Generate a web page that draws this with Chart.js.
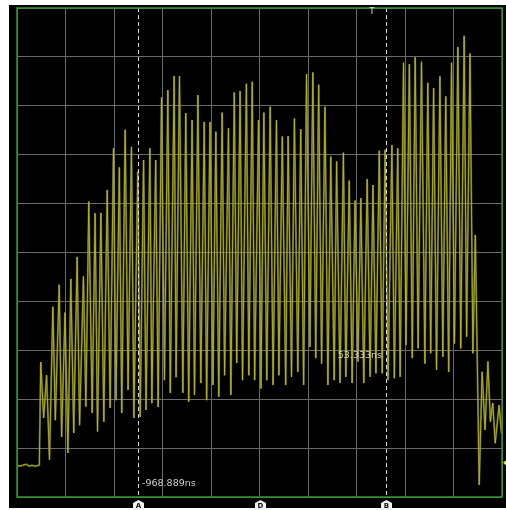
<!DOCTYPE html>
<html>
<head>
<meta charset="utf-8">
<script src="https://cdn.jsdelivr.net/npm/chart.js@4.4.0/dist/chart.umd.min.js"></script>
<style>
  html, body { margin: 0; padding: 0; background: #ffffff; }
  #scope { display: block; }
</style>
</head>
<body>
<canvas id="scope" width="506" height="510"></canvas>
<script>
// horizontal position in divisions (centre = 0), 10 divisions across
const timeDiv = [
  -5.00, -4.94, -4.88, -4.81, -4.75, -4.69, -4.63, -4.54,
  -4.51, -4.45, -4.39, -4.33, -4.26, -4.21, -4.13, -4.08, -4.01, -3.95,
  -3.89, -3.83, -3.76, -3.71, -3.63, -3.58, -3.52, -3.45, -3.39, -3.34,
  -3.27, -3.21, -3.14, -3.08, -3.01, -2.96, -2.89, -2.84, -2.77, -2.71,
  -2.64, -2.59, -2.51, -2.46, -2.39, -2.34, -2.26, -2.22, -2.14, -2.09,
  -2.02, -1.96, -1.89, -1.84, -1.76, -1.72, -1.65, -1.58, -1.52, -1.46,
  -1.39, -1.34, -1.27, -1.21, -1.14, -1.09, -1.02, -0.96, -0.90, -0.84,
  -0.77, -0.72, -0.64, -0.59, -0.52, -0.47, -0.40, -0.35, -0.27, -0.22,
  -0.15, -0.10, -0.02, 0.03, 0.09, 0.15, 0.22, 0.28, 0.35, 0.40,
  0.47, 0.54, 0.59, 0.66, 0.72, 0.79, 0.85, 0.91, 0.97, 1.04,
  1.10, 1.16, 1.22, 1.28, 1.35, 1.41, 1.47, 1.54, 1.59, 1.66,
  1.73, 1.78, 1.85, 1.91, 1.97, 2.03, 2.09, 2.15, 2.22, 2.28,
  2.34, 2.40, 2.47, 2.53, 2.59, 2.65, 2.73, 2.78, 2.85, 2.90,
  2.97, 3.02, 3.09, 3.15, 3.21, 3.27, 3.34, 3.41, 3.47, 3.53,
  3.59, 3.65, 3.72, 3.78, 3.84, 3.90, 3.96, 4.02, 4.09, 4.15,
  4.22, 4.27, 4.34, 4.40, 4.45, 4.53, 4.59, 4.65, 4.71, 4.76,
  4.81, 4.86, 4.94, 4.99
];

// channel 1 level in divisions (centre = 0)
const ch1Div = [
  -4.35, -4.37, -4.35, -4.33, -4.37, -4.35, -4.37, -4.35,
  -2.24, -3.38, -2.51, -4.24, -1.11, -3.43, -0.66, -3.77, -1.23, -4.10,
  -0.54, -3.69, -0.09, -3.53, -0.49, -3.15, 1.04, -3.28, 0.80, -3.66,
  0.81, -3.46, 1.28, -3.18, 2.13, -3.02, 1.74, -3.28, 2.51, -2.81,
  2.16, -3.38, 1.65, -3.36, 1.89, -3.22, 2.13, -3.08, 1.89, -3.16,
  3.17, -2.61, 3.32, -2.87, 3.61, -2.55, 3.61, -2.87, 2.85, -3.05,
  2.71, -2.91, 3.22, -2.67, 2.67, -3.02, 2.67, -2.71, 2.47, -2.95,
  2.86, -2.51, 2.54, -2.91, 3.27, -2.26, 3.30, -2.61, 3.45, -2.51,
  3.49, -2.61, 2.71, -2.78, 2.86, -2.61, 2.98, -2.71, 2.71, -2.51,
  2.37, -2.71, 2.38, -2.54, 2.74, -2.44, 2.52, -2.71, 3.65, -1.93,
  3.68, -2.16, 3.43, -2.27, 2.98, -2.71, 1.96, -2.61, 1.86, -2.67,
  2.04, -2.54, 1.47, -2.67, 1.06, -2.23, 1.11, -2.67, 1.50, -2.54,
  1.38, -2.47, 2.08, -2.47, 2.10, -2.61, 2.20, -2.57, 2.13, -2.54,
  3.88, -1.89, 3.85, -2.16, 3.99, -1.96, 3.90, -2.27, 3.47, -2.06,
  3.36, -2.40, 3.60, -2.13, 3.19, -2.44, 3.88, -1.86, 4.20, -1.96,
  4.43, -1.72, 4.07, -2.06, 0.36, -4.75, -2.44, -3.63, -2.23, -3.46,
  -3.08, -3.90, -3.12, -3.70
];

// cursor and trigger positions (divisions), readouts
const cursorPos = [-2.505, 2.608];
const cursorTags = ["A", "B"];
const cursorText = ["-968.889ns", "53.333ns"];
const triggerPos = 2.32;
const groundLevel = -4.30;

const points = timeDiv.map((t, i) => ({ x: t, y: ch1Div[i] }));

const scopePlugin = {
  id: "scopeDecor",
  beforeDraw(chart) {
    const ctx = chart.ctx;
    ctx.save();
    ctx.fillStyle = "#000000";
    ctx.fillRect(9, 5, chart.width - 9, chart.height - 7);
    ctx.restore();
  },
  afterDatasetsDraw(chart) {
    const ctx = chart.ctx;
    const a = chart.chartArea;
    const xs = chart.scales.x;
    const ys = chart.scales.y;
    ctx.save();

    // cursors
    ctx.strokeStyle = "#d8d8d8";
    ctx.lineWidth = 1;
    ctx.setLineDash([4, 3]);
    cursorPos.forEach(c => {
      const px = Math.round(xs.getPixelForValue(c)) + 0.5;
      ctx.beginPath();
      ctx.moveTo(px, a.top);
      ctx.lineTo(px, a.bottom);
      ctx.stroke();
    });
    ctx.setLineDash([]);

    // frame
    ctx.strokeStyle = "#2f962f";
    ctx.lineWidth = 1.5;
    ctx.strokeRect(a.left, a.top, a.right - a.left, a.bottom - a.top);

    // cursor readouts
    ctx.font = "9.5px 'DejaVu Sans'";
    ctx.fillStyle = "#cfcfcf";
    ctx.textBaseline = "middle";
    const pa = xs.getPixelForValue(cursorPos[0]);
    ctx.textAlign = "left";
    ctx.fillText(cursorText[0], pa + 4, a.bottom - 13);
    const pb = xs.getPixelForValue(cursorPos[1]);
    ctx.textAlign = "right";
    ctx.fillText(cursorText[1], pb - 4, 356);

    // trigger marker
    ctx.font = "8px 'DejaVu Sans'";
    ctx.fillStyle = "#e0e0e0";
    ctx.textAlign = "center";
    ctx.fillText("T", xs.getPixelForValue(triggerPos), a.top + 4);

    // bottom tabs: cursor A, centre, cursor B
    const tabs = [
      [xs.getPixelForValue(cursorPos[0]), cursorTags[0]],
      [xs.getPixelForValue(0), "D"],
      [xs.getPixelForValue(cursorPos[1]), cursorTags[1]]
    ];
    tabs.forEach(([px, tag]) => {
      const cx = Math.round(px) + 0.5;
      const top = a.bottom + 3;
      ctx.fillStyle = "#f2f2f2";
      ctx.beginPath();
      ctx.moveTo(cx, top);
      ctx.lineTo(cx + 5.5, top + 3);
      ctx.lineTo(cx + 5.5, top + 10);
      ctx.lineTo(cx - 5.5, top + 10);
      ctx.lineTo(cx - 5.5, top + 3);
      ctx.closePath();
      ctx.fill();
      ctx.fillStyle = "#111111";
      ctx.font = "bold 7px 'DejaVu Sans'";
      ctx.textAlign = "center";
      ctx.fillText(tag, cx, top + 6.5);
    });

    // channel ground marker on the right edge
    const gy = ys.getPixelForValue(groundLevel);
    ctx.fillStyle = "#f0f020";
    ctx.beginPath();
    ctx.moveTo(a.right + 1, gy);
    ctx.lineTo(a.right + 4, gy - 2.5);
    ctx.lineTo(a.right + 4, gy + 2.5);
    ctx.closePath();
    ctx.fill();

    ctx.restore();
  }
};

new Chart(document.getElementById("scope"), {
  type: "line",
  data: {
    datasets: [
      {
        data: points,
        borderColor: "rgba(140, 140, 20, 0.6)",
        borderWidth: 2,
        pointRadius: 0,
        tension: 0
      },
      {
        data: points,
        borderColor: "#f2f244",
        borderWidth: 0.9,
        pointRadius: 0,
        tension: 0
      }
    ]
  },
  options: {
    responsive: false,
    animation: false,
    devicePixelRatio: 1,
    layout: { padding: { left: 17, top: 8, right: 4, bottom: 13 } },
    plugins: { legend: { display: false }, tooltip: { enabled: false } },
    scales: {
      x: {
        type: "linear",
        min: -5,
        max: 5,
        ticks: { display: false, stepSize: 1 },
        grid: { color: "#6a6a6a", lineWidth: 1, drawTicks: false },
        border: { display: false }
      },
      y: {
        type: "linear",
        min: -5,
        max: 5,
        ticks: { display: false, stepSize: 1 },
        grid: { color: "#6a6a6a", lineWidth: 1, drawTicks: false },
        border: { display: false }
      }
    }
  },
  plugins: [scopePlugin]
});
</script>
</body>
</html>
